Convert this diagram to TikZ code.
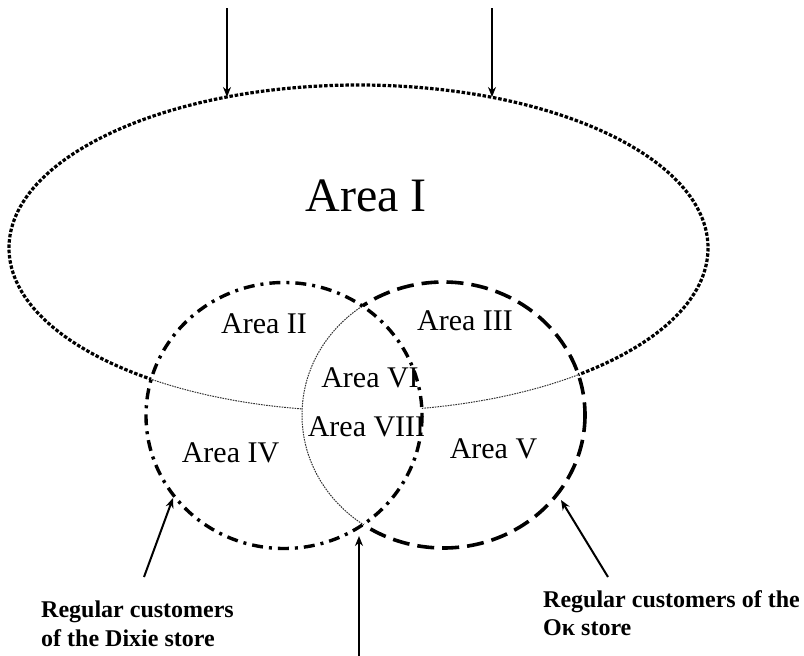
\documentclass[tikz,border=0pt]{standalone}
\usepackage{fontspec}
\setmainfont{Liberation Serif}
\usetikzlibrary{arrows.meta}

\begin{document}
\begin{tikzpicture}[x=1pt,y=-1pt,>={Stealth[length=10pt,width=8pt]}]
      \tikzstyle{area}=[inner sep=0pt,font=\fontsize{30}{36}\selectfont]
      \tikzstyle{customers}=[inner sep=0pt,anchor=north west,align=left,font=\bfseries\fontsize{24}{28.5}\selectfont]
      \tikzstyle{pointer}=[->,line width=2pt]
      \tikzstyle{market}=[line width=3.2pt,dash pattern=on 3.5pt off 1.8pt]
      \tikzstyle{hidden}=[line width=1pt,dash pattern=on 1.6pt off 1pt,black!80]
      \tikzstyle{dixie}=[line width=3.4pt,dash pattern=on 11pt off 6pt on 3pt off 6pt]
      \tikzstyle{okstore}=[line width=3.6pt,dash pattern=on 17pt off 8pt]

      \useasboundingbox (0,0) rectangle (804,656);

      % whole market, drawn heavy outside the two stores
      \begin{scope}[even odd rule]
	\clip (-10,-10) rectangle (814,666) (284,415.5) ellipse [x radius=138, y radius=133];
	\clip (-10,-10) rectangle (814,666) (443.5,415) ellipse [x radius=141.5, y radius=133];
	\draw[market] (358.5,248) ellipse [x radius=349.5, y radius=163];
      \end{scope}
      % ... and faint where it runs through one store only
      \begin{scope}[even odd rule]
	\clip (284,415.5) ellipse [x radius=138, y radius=133] (443.5,415) ellipse [x radius=141.5, y radius=133];
	\draw[hidden] (358.5,248) ellipse [x radius=349.5, y radius=163];
      \end{scope}

      % Ok store, faint inside the Dixie store
      \begin{scope}[even odd rule]
	\clip (-10,-10) rectangle (814,666) (284,415.5) ellipse [x radius=138, y radius=133];
	\draw[okstore] (443.5,415) ellipse [x radius=141.5, y radius=133];
      \end{scope}
      \begin{scope}
	\clip (284,415.5) ellipse [x radius=138, y radius=133];
	\draw[hidden] (443.5,415) ellipse [x radius=141.5, y radius=133];
      \end{scope}

      % Dixie store
      \draw[dixie] (284,415.5) ellipse [x radius=138, y radius=133];

      \node[area,font=\fontsize{48}{56}\selectfont]	(A1) at (366,196) {Area I};
      \node[area]	(A2) at (264,324) {Area II};
      \node[area]	(A3) at (465,321) {Area III};
      \node[area]	(A4) at (230.5,453) {Area IV};
      \node[area]	(A5) at (493.5,449) {Area V};
      \node[area]	(A6) at (370,378) {Area VI};
      \node[area]	(A8) at (366.5,427) {Area VIII};

      \node[customers]	(D) at (41,601) {Regular customers\\of the Dixie store};
      \node[customers]	(K) at (543,590) {Regular customers of the\\Oκ store};

      \coordinate (t1) at (227,8);	\coordinate (h1) at (227,97);
      \coordinate (t2) at (492,8);	\coordinate (h2) at (492,97);
      \coordinate (t3) at (144,577);	\coordinate (h3) at (173,498);
      \coordinate (t4) at (608,577);	\coordinate (h4) at (561,500);
      \coordinate (t5) at (359,656);	\coordinate (h5) at (359,536);

      \draw[pointer] (t1) -- (h1);
      \draw[pointer] (t2) -- (h2);
      \draw[pointer] (t3) -- (h3);
      \draw[pointer] (t4) -- (h4);
      \draw[pointer] (t5) -- (h5);
\end{tikzpicture}
\end{document}
